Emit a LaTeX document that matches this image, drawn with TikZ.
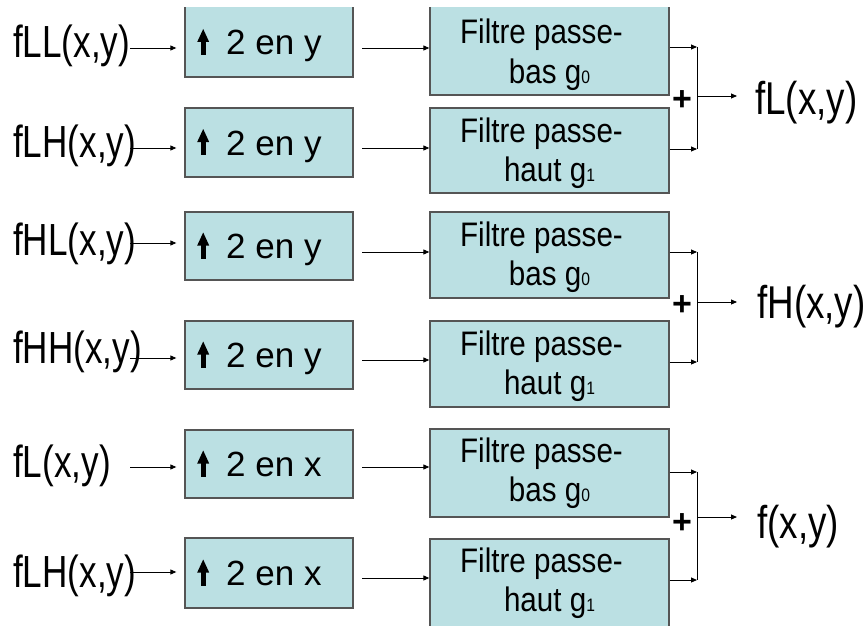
\documentclass[tikz,border=0pt]{standalone}
\usepackage{fontspec}
\setmainfont{Liberation Sans}
\newfontfamily\labfont[FakeStretch=0.78]{Liberation Sans}
\newfontfamily\outfont[FakeStretch=0.8]{Liberation Sans}
\newfontfamily\filtfont[FakeStretch=0.87]{Liberation Sans}
\usetikzlibrary{arrows.meta}
\definecolor{boxfill}{RGB}{187,224,227}
\definecolor{boxline}{RGB}{85,85,85}
\newcommand\UpGlyph{\tikz[baseline=0pt]{\fill[black] (-2.3pt,0pt) rectangle (2.3pt,14pt); \fill[black] (-6pt,13pt) -- (6pt,13pt) -- (0pt,26pt) -- cycle;}}
\newcommand\subdig[1]{{\fontsize{18pt}{18pt}\selectfont #1}}
\begin{document}
\begin{tikzpicture}[x=1pt,y=-1pt,
  ubox/.style={draw=boxline, fill=boxfill, line width=1.3pt, inner sep=0pt, minimum width=168pt},
  fbox/.style={draw=boxline, fill=boxfill, line width=1.3pt, inner sep=0pt, minimum width=239pt},
  utext/.style={anchor=base west, inner sep=0pt, font=\fontsize{35pt}{40pt}\selectfont},
  ftext/.style={anchor=base, inner sep=0pt, font=\filtfont\fontsize{34pt}{38pt}\selectfont},
  intext/.style={anchor=base west, inner sep=0pt, font=\labfont\fontsize{45pt}{50pt}\selectfont},
  outtext/.style={anchor=base west, inner sep=0pt, font=\outfont\fontsize{46pt}{50pt}\selectfont},
  plus/.style={inner sep=0pt, font=\bfseries\fontsize{34pt}{40pt}\selectfont},
  arr/.style={line width=0.9pt, -{Triangle[length=6pt,width=5pt]}},
  conn/.style={line width=0.9pt}]
\useasboundingbox (0,0) rectangle (867,626);
\clip (0,8) rectangle (867,626);

% ---------- upsampling boxes ----------
\node[ubox, minimum height=77pt] (u1) at (269,38.5) {};
\node[ubox, minimum height=69pt] (u2) at (269,142.5) {};
\node[ubox, minimum height=68pt] (u3) at (269,246) {};
\node[ubox, minimum height=68pt] (u4) at (269,355) {};
\node[ubox, minimum height=68pt] (u5) at (269,464) {};
\node[ubox, minimum height=70pt] (u6) at (269,573) {};

\node[utext] (u1t) at (197,55) {\UpGlyph\hspace{17pt}2 en y};
\node[utext] (u2t) at (197,155) {\UpGlyph\hspace{17pt}2 en y};
\node[utext] (u3t) at (197,258.5) {\UpGlyph\hspace{17pt}2 en y};
\node[utext] (u4t) at (197,367.5) {\UpGlyph\hspace{17pt}2 en y};
\node[utext] (u5t) at (197,476.5) {\UpGlyph\hspace{17pt}2 en x};
\node[utext] (u6t) at (197,585.5) {\UpGlyph\hspace{17pt}2 en x};

% ---------- filter boxes ----------
\node[fbox, minimum height=95pt] (f1) at (549.5,47.5) {};
\node[fbox, minimum height=85pt] (f2) at (549.5,150.5) {};
\node[fbox, minimum height=86pt] (f3) at (549.5,255) {};
\node[fbox, minimum height=86pt] (f4) at (549.5,364) {};
\node[fbox, minimum height=88pt] (f5) at (549.5,473) {};
\node[fbox, minimum height=91pt] (f6) at (549.5,584.5) {};

\node[ftext] (f1a) at (549.5,44) {Filtre passe-\hspace*{16pt}};
\node[ftext] (f1b) at (549.5,83) {bas g\subdig{0}};
\node[ftext] (f2a) at (549.5,142) {Filtre passe-\hspace*{16pt}};
\node[ftext] (f2b) at (549.5,181) {haut g\subdig{1}};
\node[ftext] (f3a) at (549.5,246) {Filtre passe-\hspace*{16pt}};
\node[ftext] (f3b) at (549.5,285) {bas g\subdig{0}};
\node[ftext] (f4a) at (549.5,355) {Filtre passe-\hspace*{16pt}};
\node[ftext] (f4b) at (549.5,394) {haut g\subdig{1}};
\node[ftext] (f5a) at (549.5,462) {Filtre passe-\hspace*{16pt}};
\node[ftext] (f5b) at (549.5,501) {bas g\subdig{0}};
\node[ftext] (f6a) at (549.5,572) {Filtre passe-\hspace*{16pt}};
\node[ftext] (f6b) at (549.5,611) {haut g\subdig{1}};

% ---------- input labels ----------
\node[intext] (i1) at (13,58) {fLL(x,y)};
\node[intext] (i2) at (13,157) {fLH(x,y)};
\node[intext] (i3) at (13,255) {fHL(x,y)};
\node[intext] (i4) at (13,363) {fHH(x,y)};
\node[intext] (i5) at (13,477) {fL(x,y)};
\node[intext] (i6) at (13,587) {fLH(x,y)};

% ---------- output labels ----------
\node[outtext] (o1) at (755,114) {fL(x,y)};
\node[outtext] (o2) at (757,318) {fH(x,y)};
\node[outtext] (o3) at (757,538) {f(x,y)};

% ---------- plus signs ----------
\node[plus] (p1) at (682,101) {+};
\node[plus] (p2) at (682,306) {+};
\node[plus] (p3) at (682,524) {+};

% ---------- input arrows ----------
\coordinate (s1) at (130,48);
\coordinate (s2) at (130,148);
\coordinate (s3) at (130,243);
\coordinate (s4) at (130,358);
\coordinate (s5) at (130,467);
\coordinate (s6) at (130,572);
\foreach \k in {1,...,6}{
  \draw[arr, shorten >=8pt] (s\k) -- (s\k -| u\k.west);
}

% ---------- middle arrows ----------
\coordinate (m1) at (362,48);
\coordinate (m2) at (362,148);
\coordinate (m3) at (362,252);
\coordinate (m4) at (362,360);
\coordinate (m5) at (362,467);
\coordinate (m6) at (362,578);
\foreach \k in {1,...,6}{
  \draw[arr] (m\k) -- (m\k -| f\k.west);
}

% ---------- output arrows and junctions ----------
\coordinate (e1) at (697,47);
\coordinate (e2) at (697,149);
\coordinate (e3) at (697,252);
\coordinate (e4) at (697,362);
\coordinate (e5) at (697,472);
\coordinate (e6) at (697,580);
\foreach \k in {1,...,6}{
  \draw[arr] (e\k -| f\k.east) -- (e\k);
}
\draw[conn] (e1) -- (e2);
\draw[conn] (e3) -- (e4);
\draw[conn] (e5) -- (e6);

\coordinate (j1) at (697,96);
\coordinate (j2) at (697,302);
\coordinate (j3) at (697,517);
\draw[arr, shorten >=18pt] (j1) -- (j1 -| o1.west);
\draw[arr, shorten >=20pt] (j2) -- (j2 -| o2.west);
\draw[arr, shorten >=20pt] (j3) -- (j3 -| o3.west);
\end{tikzpicture}
\end{document}
